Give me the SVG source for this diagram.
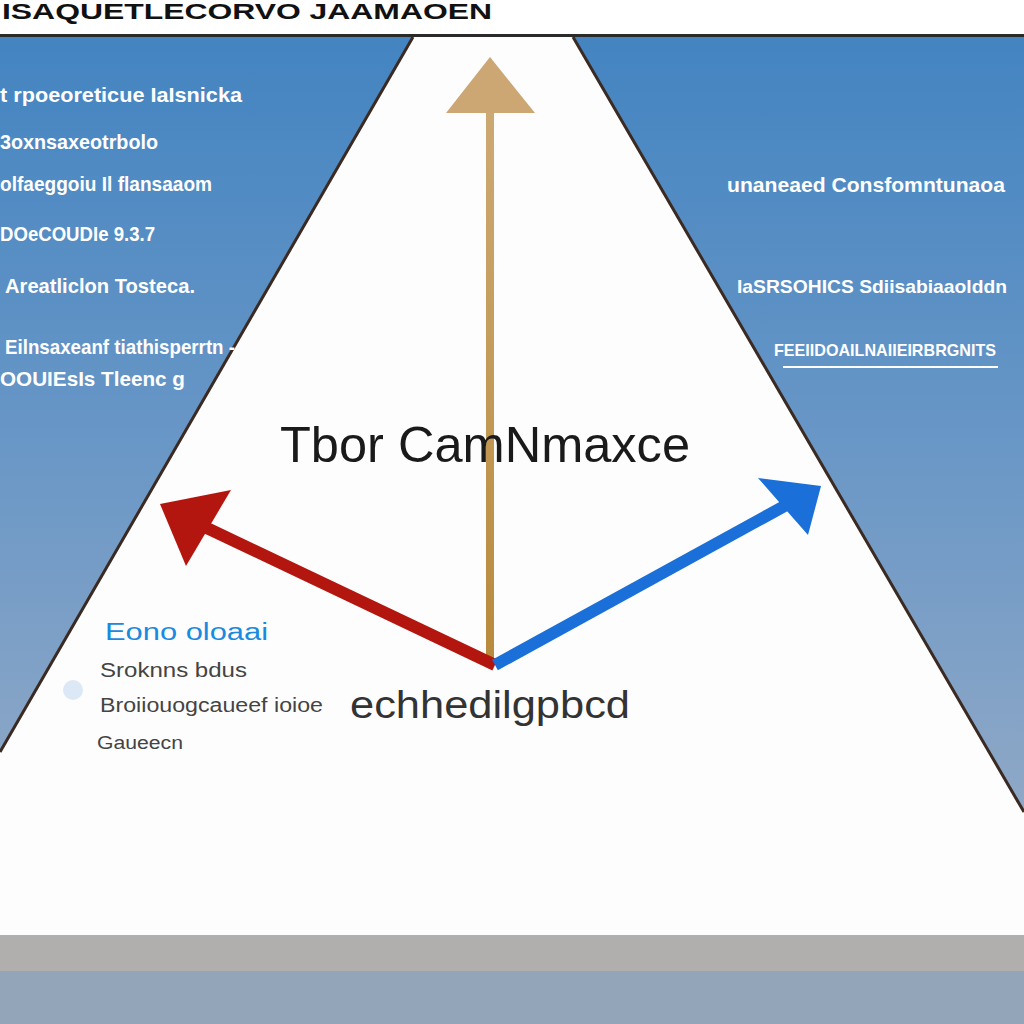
<svg xmlns="http://www.w3.org/2000/svg" width="1024" height="1024" viewBox="0 0 1024 1024">
<defs>
<linearGradient id="bg" x1="0" y1="37" x2="0" y2="812" gradientUnits="userSpaceOnUse">
<stop offset="0" stop-color="#4384c1"/>
<stop offset="0.5" stop-color="#6796c6"/>
<stop offset="1" stop-color="#8fa8c6"/>
</linearGradient>
<linearGradient id="gold" x1="0" y1="58" x2="0" y2="665" gradientUnits="userSpaceOnUse">
<stop offset="0" stop-color="#cfac78"/>
<stop offset="1" stop-color="#b88a3c"/>
</linearGradient>
<style>
text{font-family:"Liberation Sans",Arial,sans-serif}
.wt{fill:#ffffff;font-weight:bold;font-size:21px}
.dk{fill:#444444;font-size:20px}
.edge{stroke:#3a2a22;stroke-width:3;fill:none}
</style>
</defs>
<rect width="1024" height="1024" fill="#ffffff"/>
<g id="background">
<rect x="0" y="37" width="1024" height="775" fill="url(#bg)"/>
<polygon points="413,37 573,37 1024,812 1024,935 0,935 0,752" fill="#fdfdfd"/>
<line x1="0" y1="35.5" x2="1024" y2="35.5" stroke="#2a2a2a" stroke-width="3"/>
<line class="edge" x1="413" y1="37" x2="0" y2="752"/>
<line class="edge" x1="573" y1="37" x2="1024" y2="812"/>
<rect x="0" y="935" width="1024" height="36" fill="#b0afae"/>
<rect x="0" y="971" width="1024" height="53" fill="#93a6b9"/>
<circle cx="73" cy="690" r="10" fill="#dce8f5"/>
</g>
<g id="title">
<text x="2" y="19" font-weight="bold" font-size="22" fill="#111" textLength="490" lengthAdjust="spacingAndGlyphs">ISAQUETLECORVO  JAAMAOEN</text>
</g>
<g id="left-labels">
<text class="wt" x="0" y="102" textLength="242" lengthAdjust="spacingAndGlyphs">t rpoeoreticue IaIsnicka</text>
<text class="wt" x="0" y="149" textLength="158" lengthAdjust="spacingAndGlyphs">3oxnsaxeotrbolo</text>
<text class="wt" x="0" y="191" textLength="212" lengthAdjust="spacingAndGlyphs">olfaeggoiu Il flansaaom</text>
<text class="wt" x="0" y="241" textLength="155" lengthAdjust="spacingAndGlyphs">DOeCOUDIe 9.3.7</text>
<text class="wt" x="5" y="293" textLength="190" lengthAdjust="spacingAndGlyphs">Areatliclon Tosteca.</text>
<text class="wt" x="5" y="354" textLength="230" lengthAdjust="spacingAndGlyphs">Eilnsaxeanf tiathisperrtn -</text>
<text class="wt" x="0" y="386" textLength="185" lengthAdjust="spacingAndGlyphs">OOUIEsIs Tleenc g</text>
</g>
<g id="right-labels">
<text class="wt" x="727" y="192" textLength="278" lengthAdjust="spacingAndGlyphs">unaneaed Consfomntunaoa</text>
<text class="wt" x="737" y="293" style="font-size:19px" textLength="270" lengthAdjust="spacingAndGlyphs">IaSRSOHICS Sdiisabiaaolddn</text>
<text class="wt" x="774" y="356" style="font-size:17px" textLength="222" lengthAdjust="spacingAndGlyphs">FEEIIDOAILNAIIEIRBRGNITS</text>
<line x1="783" y1="367" x2="998" y2="367" stroke="#ffffff" stroke-width="2"/>
</g>
<g id="connectors">
<line x1="490" y1="665" x2="490" y2="105" stroke="url(#gold)" stroke-width="8"/>
<polygon points="490,57 535,113 446,113" fill="#cca673"/>
<line x1="495" y1="665" x2="190" y2="520" stroke="#b3160f" stroke-width="12"/>
<polygon points="160,504 231,490 186,566" fill="#b3160f"/>
<line x1="495" y1="665" x2="790" y2="503" stroke="#1a6fd8" stroke-width="12"/>
<polygon points="821,486 758,478 808,535" fill="#1a6fd8"/>
</g>
<g id="center-title">
<text x="280" y="462" font-size="50" fill="#1a1a1a" textLength="410" lengthAdjust="spacingAndGlyphs">Tbor CamNmaxce</text>
</g>
<g id="bottom-label">
<text x="350" y="718" font-size="38" fill="#333333" textLength="280" lengthAdjust="spacingAndGlyphs">echhedilgpbcd</text>
</g>
<g id="legend">
<text x="105" y="640" font-size="23" fill="#1a8ae0" textLength="163" lengthAdjust="spacingAndGlyphs">Eono oloaai</text>
<text class="dk" x="100" y="677" textLength="147" lengthAdjust="spacingAndGlyphs">Sroknns bdus</text>
<text class="dk" x="100" y="712" textLength="223" lengthAdjust="spacingAndGlyphs">Broiiouogcaueef ioioe</text>
<text class="dk" x="97" y="749" style="font-size:18px" textLength="86" lengthAdjust="spacingAndGlyphs">Gaueecn</text>
</g>
</svg>
